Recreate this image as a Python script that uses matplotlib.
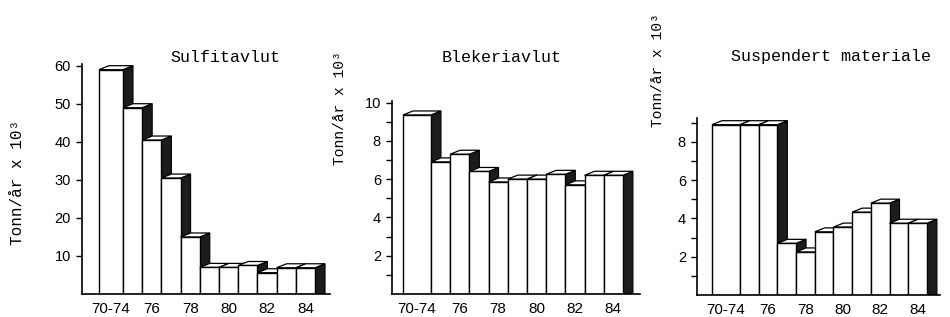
import matplotlib
matplotlib.use("Agg")
import matplotlib.pyplot as plt
from matplotlib.patches import Polygon
import numpy as np

# data (tonn/år x 10^3)
years = ["70-74", "75", "76", "77", "78", "79", "80", "81", "82", "83", "84"]
sulfitavlut = [59.0, 49.0, 40.5, 30.5, 15.0, 7.0, 7.0, 7.5, 5.6, 6.9, 6.9]
blekeriavlut = [9.35, 6.9, 7.3, 6.4, 5.85, 6.0, 6.0, 6.25, 5.7, 6.2, 6.2]
suspendert = [8.9, 8.9, 8.9, 2.7, 2.25, 3.3, 3.55, 4.33, 4.8, 3.75, 3.75]
tick_years = ["70-74", "76", "78", "80", "82", "84"]

W, H = 950, 317
DEPTH_X, DEPTH_Y = 10, 4  # pixel offset of the fake 3d depth
DARK = "#1c1c1c"
MONO = "Liberation Mono"
SANS = "Liberation Sans"

fig = plt.figure(figsize=(W / 100, H / 100), dpi=100)


def px_rect(left, right, top, bottom):
    return [left / W, (H - bottom) / H, (right - left) / W, (bottom - top) / H]


def panel(rect_px, values, first_w, xlim, ylim, major, minor):
    rect = px_rect(*rect_px)
    ax = fig.add_axes(rect)
    ax.set_xlim(*xlim)
    ax.set_ylim(*ylim)

    widths = np.array([first_w] + [1.0] * (len(values) - 1))
    lefts = np.concatenate([[0.0], np.cumsum(widths)[:-1]])
    dx = DEPTH_X * (xlim[1] - xlim[0]) / (rect[2] * W)
    dy = DEPTH_Y * (ylim[1] - ylim[0]) / (rect[3] * H)

    bars = ax.bar(lefts, values, widths, align="edge", color="white",
                  edgecolor="black", linewidth=1.0)
    for i, (bar, x0, w, v) in enumerate(zip(bars, lefts, widths, values)):
        z = 2 + i * 0.05
        side = Polygon([(x0 + w, 0), (x0 + w, v), (x0 + w + dx, v + dy), (x0 + w + dx, 0)],
                       closed=True, fc=DARK, ec="black", lw=0.8, zorder=z)
        top = Polygon([(x0, v), (x0 + dx, v + dy), (x0 + w + dx, v + dy), (x0 + w, v)],
                      closed=True, fc="white", ec="black", lw=0.9, zorder=z + 0.01)
        ax.add_patch(side)
        ax.add_patch(top)
        bar.set_zorder(z + 0.02)

    centers = lefts + widths / 2
    pos = [centers[years.index(t)] for t in tick_years]
    ax.set_xticks(pos)
    ax.set_xticklabels(tick_years, fontsize=11, family=SANS)
    ax.tick_params(axis="x", length=0, pad=6)

    ax.set_yticks(major)
    ax.set_yticklabels([str(m) for m in major], fontsize=10.5, family=SANS)
    ax.set_yticks(minor, minor=True)
    ax.tick_params(axis="y", which="both", direction="out", length=4, width=1.0, pad=4)

    for where in ["top", "right"]:
        ax.spines[where].set_visible(False)
    for where in ["left", "bottom"]:
        ax.spines[where].set_linewidth(1.2)
        ax.spines[where].set_zorder(5)
    return ax


panel((82, 330, 64, 294), sulfitavlut, 1.25, (-0.885, 12.03), (0, 60.5),
      [10, 20, 30, 40, 50, 60], [])
panel((392, 640, 101, 294), blekeriavlut, 1.46, (-0.57, 12.35), (0, 10.08),
      [2, 4, 6, 8, 10], [1, 3, 5, 7, 9])
panel((697, 940, 118, 295), suspendert, 1.5, (-0.8, 12.2), (0, 9.25),
      [2, 4, 6, 8], [1, 3, 5, 7, 9])

titles = [("Sulfitavlut", 225, 57), ("Blekeriavlut", 502, 57),
          ("Suspendert materiale", 831, 56)]
for text, x, y in titles:
    fig.text(x / W, 1 - y / H, text, ha="center", va="center",
             fontsize=12, family=MONO)

ylabels = [(18, 182, 11.5), (340, 108, 10.5), (658, 70, 10.5)]
for x, y, size in ylabels:
    fig.text(x / W, 1 - y / H, "Tonn/år x 10³", ha="center", va="center",
             rotation=90, fontsize=size, family=MONO)

plt.savefig("out.png", dpi=100)
